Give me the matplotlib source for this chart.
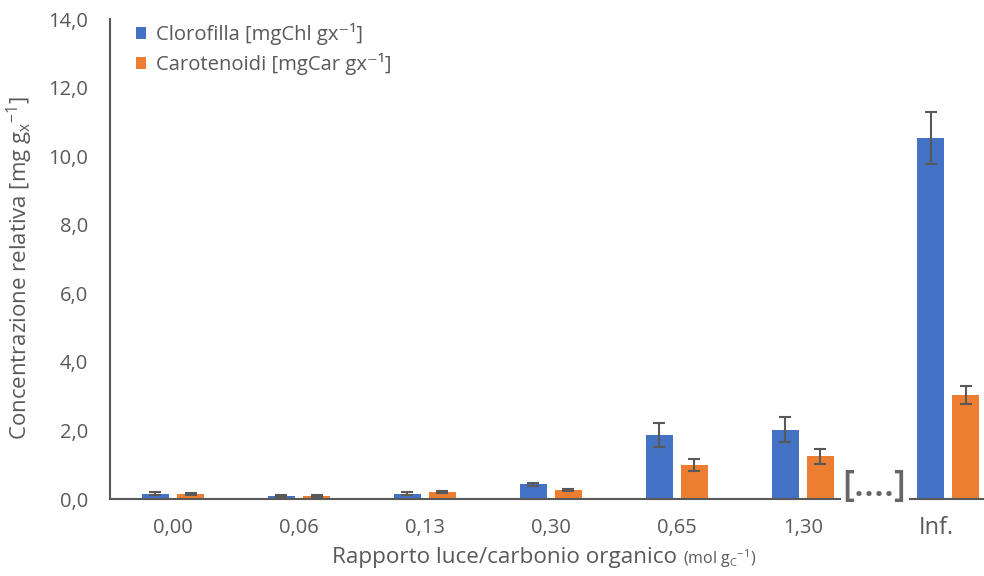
import numpy as np
import matplotlib
matplotlib.use("Agg")
import matplotlib.pyplot as plt

plt.rcParams['font.family'] = ['Open Sans', 'DejaVu Sans']
plt.rcParams['mathtext.fontset'] = 'custom'
plt.rcParams['mathtext.rm'] = 'Open Sans'

# Light / organic carbon ratio categories
categories = ["0,00", "0,06", "0,13", "0,30", "0,65", "1,30"]
inf_label = "Inf."

# Chlorophyll [mgChl gx^-1]
chl = [0.15, 0.08, 0.15, 0.43, 1.87, 2.02]
chl_err = [0.04, 0.03, 0.04, 0.04, 0.35, 0.37]
chl_inf, chl_inf_err = 10.53, 0.77

# Carotenoids [mgCar gx^-1]
car = [0.15, 0.08, 0.20, 0.27, 0.99, 1.24]
car_err = [0.03, 0.03, 0.03, 0.03, 0.18, 0.21]
car_inf, car_inf_err = 3.04, 0.27

yticks = [0, 2, 4, 6, 8, 10, 12, 14]

BLUE = "#4472C4"
ORANGE = "#ED7D31"
GREY = "#595959"
W, H = 984, 576

fig = plt.figure(figsize=(W / 100, H / 100), dpi=100)
ax = fig.add_axes([110 / W, 1 - 499 / H, (840 - 110) / W, (499 - 19) / H])
ax2 = fig.add_axes([910 / W, 1 - 499 / H, (984 - 910) / W, (499 - 19) / H])

bw = 0.214
off = 0.139
err_kw = dict(ecolor=GREY, elinewidth=1.5, capsize=4, capthick=1.5)

x = np.arange(len(categories))
ax.bar(x - off, chl, bw, yerr=chl_err, color=BLUE, error_kw=err_kw,
       label="Clorofilla [mgChl gx\u207b\u00b9]")
ax.bar(x + off, car, bw, yerr=car_err, color=ORANGE, error_kw=err_kw,
       label="Carotenoidi [mgCar gx\u207b\u00b9]")
ax2.bar([-off], [chl_inf], bw, yerr=[chl_inf_err], color=BLUE, error_kw=err_kw)
ax2.bar([off], [car_inf], bw, yerr=[car_inf_err], color=ORANGE, error_kw=err_kw)

for a in (ax, ax2):
    a.set_ylim(0, 14)
    for s in ("top", "right"):
        a.spines[s].set_visible(False)
    a.spines["bottom"].set_color(GREY)
    a.spines["bottom"].set_linewidth(1.5)
    a.tick_params(axis="x", length=0, pad=14, labelcolor=GREY, labelsize=14.5)

ax.set_xlim(-0.5, 5.294)
ax.set_xticks(x)
ax.set_xticklabels(categories)
ax.spines["left"].set_color(GREY)
ax.spines["left"].set_linewidth(1.5)
ax.set_yticks(yticks)
ax.set_yticklabels([f"{v:.1f}".replace(".", ",") for v in yticks])
ax.tick_params(axis="y", length=0, pad=16, labelcolor=GREY, labelsize=14.5)

ax2.set_xlim(-0.302, 0.286)
ax2.spines["left"].set_visible(False)
ax2.set_yticks([])
ax2.set_xticks([-0.09])
ax2.set_xticklabels([inf_label], fontsize=17)
ax2.tick_params(axis="x", pad=12)
ax2.patch.set_alpha(0)

ax.set_ylabel(r"Concentrazione relativa [mg g$_\mathregular{x}$$^\mathregular{-1}$]",
              color=GREY, fontsize=16)
ax.yaxis.set_label_coords(-75 / 730, 0.481)

leg = ax.legend(loc="upper left", bbox_to_anchor=(8 / 730, 1.0 + 14 / 480),
                frameon=False, fontsize=14.6, handlelength=0.5, handleheight=0.5,
                handletextpad=0.45, labelspacing=0.4, labelcolor=GREY)

# axis break marker between the regular categories and the Inf. group
fig.text(874 / W, 1 - 487 / H, "[....]", fontsize=26, color="#666666",
         ha="center", va="center", fontweight="semibold")

# x axis title with a smaller unit part
fig.canvas.draw()
renderer = fig.canvas.get_renderer()
t1 = fig.text(332 / W, 1 - 558 / H, "Rapporto luce/carbonio organico",
              fontsize=16.2, color=GREY, ha="left", va="center")
bb = t1.get_window_extent(renderer)
fig.text((bb.x1 + 6) / W, 1 - 559 / H,
         r"(mol g$_\mathregular{C}$$^\mathregular{-1}$)",
         fontsize=11.5, color=GREY, ha="left", va="center")

fig.savefig("out.png", dpi=100)
